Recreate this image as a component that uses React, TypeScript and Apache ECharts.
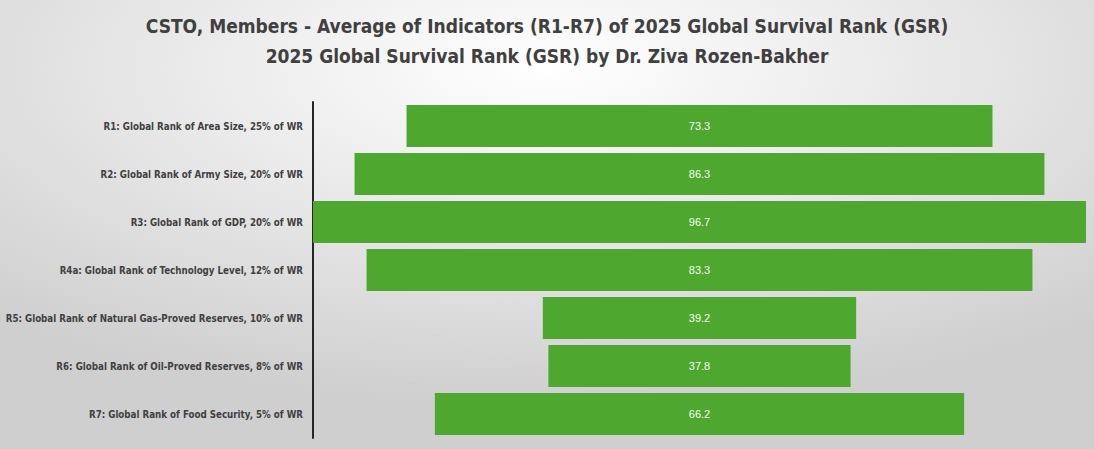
import React, { useEffect, useRef } from "react";
import * as echarts from "echarts";

const categories = [
  "R1: Global Rank of Area Size, 25% of WR",
  "R2: Global Rank of Army Size, 20% of WR",
  "R3: Global Rank of GDP, 20% of WR",
  "R4a: Global Rank of Technology Level, 12% of WR",
  "R5: Global Rank of Natural Gas-Proved Reserves, 10% of WR",
  "R6: Global Rank of Oil-Proved Reserves, 8% of WR",
  "R7: Global Rank of Food Security, 5% of WR",
];
const values = [73.3, 86.3, 96.7, 83.3, 39.2, 37.8, 66.2];
const titleLines = [
  "CSTO, Members - Average of Indicators (R1-R7) of 2025 Global Survival Rank (GSR)",
  "2025 Global Survival Rank (GSR) by Dr. Ziva Rozen-Bakher",
];

export default function App() {
  const ref = useRef<HTMLDivElement>(null);
  useEffect(() => {
    document.body.style.margin = "0";
    const chart = echarts.init(ref.current!, null, { renderer: "svg" });
    const maxV = Math.max(...values);
    const offsets = values.map((v) => (maxV - v) / 2);
    const narrow = "'DejaVu Sans Condensed', sans-serif";
    chart.setOption({
      animation: false,
      backgroundColor: {
        type: "radial",
        x: 0.5,
        y: 0.15,
        r: 0.75,
        colorStops: [
          { offset: 0, color: "#ffffff" },
          { offset: 1, color: "#cfcfcf" },
        ],
      },
      title: [
        {
          text: titleLines[0],
          left: "center",
          top: 11,
          textStyle: { fontFamily: narrow, fontWeight: "bold", fontSize: 19, color: "#404040" },
        },
        {
          text: titleLines[1],
          left: "center",
          top: 41,
          textStyle: { fontFamily: narrow, fontWeight: "bold", fontSize: 19, color: "#404040" },
        },
      ],
      grid: {
        left: 313,
        right: 8,
        top: 102,
        bottom: 11,
        containLabel: false,
        outerBoundsMode: "none",
      },
      xAxis: {
        type: "value",
        min: 0,
        max: maxV,
        show: false,
      },
      yAxis: {
        type: "category",
        data: categories,
        inverse: true,
        axisLine: { show: true, lineStyle: { color: "#262626", width: 2 } },
        axisTick: { show: false },
        axisLabel: {
          margin: 10,
          fontFamily: narrow,
          fontWeight: "bold",
          fontSize: 9.7,
          color: "#404040",
        },
      },
      series: [
        {
          type: "bar",
          stack: "f",
          data: offsets,
          itemStyle: { color: "transparent" },
          barCategoryGap: "12.5%",
          silent: true,
        },
        {
          type: "bar",
          stack: "f",
          data: values,
          itemStyle: { color: "#4EA72E" },
          barCategoryGap: "12.5%",
          label: {
            show: true,
            position: "inside",
            color: "#f4fff0",
            fontFamily: "'Liberation Sans', sans-serif",
            fontSize: 11,
            formatter: (p: any) => p.value.toFixed(1),
          },
        },
      ],
    });
    return () => chart.dispose();
  }, []);
  return <div ref={ref} style={{ width: 1094, height: 449 }} />;
}
